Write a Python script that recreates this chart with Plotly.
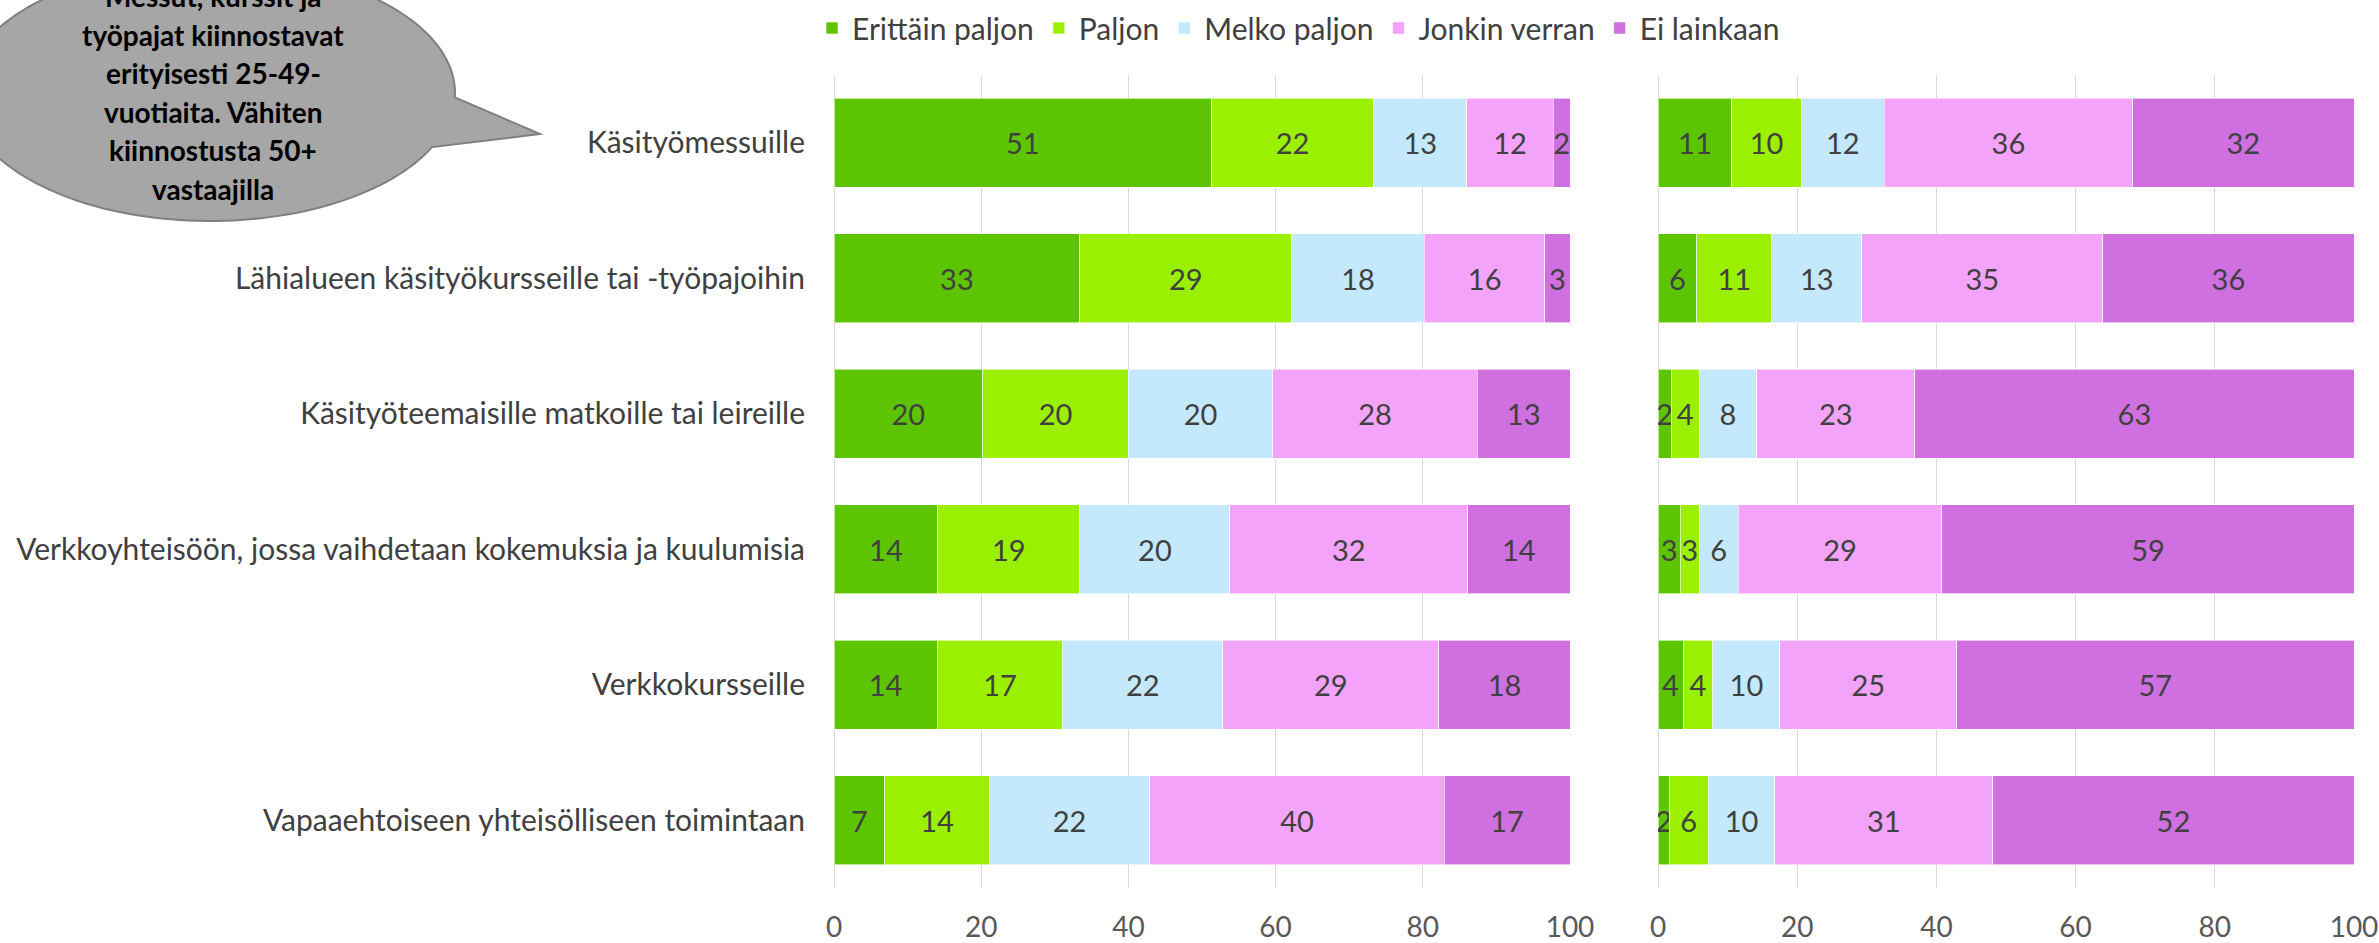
import numpy as np
import plotly.graph_objects as go

categories = [
    "Käsityömessuille",
    "Lähialueen käsityökursseille tai -työpajoihin",
    "Käsityöteemaisille matkoille tai leireille",
    "Verkkoyhteisöön, jossa vaihdetaan kokemuksia ja kuulumisia",
    "Verkkokursseille",
    "Vapaaehtoiseen yhteisölliseen toimintaan",
]
series_names = ["Erittäin paljon", "Paljon", "Melko paljon", "Jonkin verran", "Ei lainkaan"]

# left panel
erittain_l = [51.3, 33.4, 20.2, 14.1, 14.0, 6.9]
paljon_l = [22.0, 28.8, 19.8, 19.3, 17.1, 14.2]
melko_l = [12.7, 18.0, 19.6, 20.4, 21.7, 21.8]
jonkin_l = [11.7, 16.4, 27.8, 32.3, 29.4, 40.0]
ei_l = [2.3, 3.4, 12.6, 13.9, 17.8, 17.1]

# right panel
erittain_r = [10.6, 5.6, 1.9, 3.2, 3.6, 1.6]
paljon_r = [10.0, 10.7, 4.0, 2.7, 4.3, 5.6]
melko_r = [11.9, 13.0, 8.3, 5.6, 9.6, 9.6]
jonkin_r = [35.7, 34.6, 22.7, 29.3, 25.4, 31.3]
ei_r = [31.8, 36.1, 63.1, 59.2, 57.1, 51.9]

callout_lines = [
    "Messut, kurssit ja",
    "työpajat kiinnostavat",
    "erityisesti 25-49-",
    "vuotiaita. Vähiten",
    "kiinnostusta 50+",
    "vastaajilla",
]

colors = ["#5CC400", "#9AF000", "#C4E8FC", "#F4A3FA", "#CF6FE0"]

W, H = 2379, 943
FONT = "Lato"


def px(x):
    return x / W


def py(y):
    return 1 - y / H


fig = go.Figure()

left = [erittain_l, paljon_l, melko_l, jonkin_l, ei_l]
right = [erittain_r, paljon_r, melko_r, jonkin_r, ei_r]

for i, name in enumerate(series_names):
    for vals, xa, ya, show in [(left[i], "x", "y", True), (right[i], "x2", "y2", False)]:
        fig.add_trace(go.Bar(
            x=vals,
            y=categories,
            orientation="h",
            name=name,
            marker=dict(color=colors[i], line=dict(color="rgba(255,255,255,0.6)", width=1)),
            texttemplate="%{x:.0f}",
            textposition="inside",
            insidetextanchor="middle",
            constraintext="none",
            textfont=dict(size=29, color="#404040", family=FONT),
            xaxis=xa,
            yaxis=ya,
            showlegend=show,
            legendgroup=name,
        ))

xcommon = dict(
    range=[0, 100], dtick=20, showgrid=True, gridcolor="#D9D9D9", gridwidth=1,
    zeroline=True, zerolinecolor="#D9D9D9", zerolinewidth=1,
    tickfont=dict(size=28, color="#595959", family=FONT),
    ticks="", ticklabelstandoff=20, fixedrange=True, automargin=False,
)
ycommon = dict(autorange="reversed", showgrid=False, zeroline=False, ticks="",
               domain=[py(888), py(75)], automargin=False)

# speech bubble outline
cx, cy, rx, ry = 210, 93, 245, 128
t = np.radians(np.linspace(25, 362, 160))
bx = cx + rx * np.cos(t)
by = cy + ry * np.sin(t)
path = "M " + " L ".join(f"{px(a):.5f},{py(b):.5f}" for a, b in zip(bx, by))
path += f" L {px(540):.5f},{py(134):.5f} Z"

shapes = [dict(type="path", xref="paper", yref="paper", path=path,
               fillcolor="#A6A6A6", line=dict(color="#7F7F7F", width=2), layer="above")]

annotations = []
for k, line in enumerate(callout_lines):
    annotations.append(dict(
        x=px(cx + 3), y=py(-4 + k * 38.5), xref="paper", yref="paper",
        text=f"<b>{line}</b>", showarrow=False, xanchor="center", yanchor="middle",
        font=dict(size=28, color="#000000", family=FONT),
    ))

fig.update_layout(
    width=W, height=H,
    margin=dict(l=0, r=0, t=0, b=0, autoexpand=False),
    barmode="stack",
    bargap=0.343,
    plot_bgcolor="white",
    paper_bgcolor="white",
    font=dict(family=FONT, color="#404040"),
    uniformtext=dict(minsize=29, mode="show"),
    xaxis=dict(domain=[px(834), px(1570)], anchor="y", **xcommon),
    yaxis=dict(anchor="x", tickfont=dict(size=30, color="#404040", family=FONT),
               ticklabelstandoff=28, **ycommon),
    xaxis2=dict(domain=[px(1658), px(2354)], anchor="y2", **xcommon),
    yaxis2=dict(anchor="x2", showticklabels=False, **ycommon),
    legend=dict(orientation="h", x=px(812), xanchor="left", y=py(2), yanchor="top",
                font=dict(size=30, color="#404040", family=FONT), traceorder="normal",
                bgcolor="rgba(0,0,0,0)"),
    shapes=shapes,
    annotations=annotations,
)

fig.write_html("out.html", config={"displayModeBar": False},
               post_script="document.body.style.margin='0';")
